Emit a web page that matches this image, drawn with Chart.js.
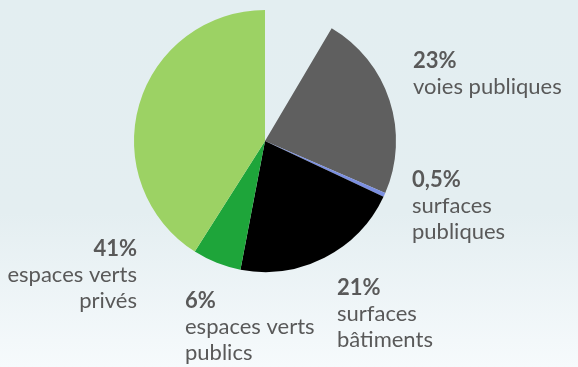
<!DOCTYPE html>
<html>
<head>
<meta charset="utf-8">
<script src="https://cdn.jsdelivr.net/npm/chart.js@4"></script>
<style>
  html, body { margin: 0; padding: 0; }
  body {
    width: 578px; height: 367px; overflow: hidden;
    background: linear-gradient(to bottom, #e3eef1 0%, #e4eef1 58%, #f6fafc 100%);
  }
  #wrap { position: relative; width: 578px; height: 367px; }
</style>
</head>
<body>
<div id="wrap"><canvas id="land-chart" width="578" height="367"></canvas></div>
<script>
// Occupation du sol, clockwise from 12 o'clock; the first slice is left empty
const categories = ['', 'voies publiques', 'surfaces publiques', 'surfaces bâtiments', 'espaces verts publics', 'espaces verts privés']
const shares = [8.5, 23, 0.5, 21, 6, 41]
const pctLabels = ['', '23%', '0,5%', '21%', '6%', '41%']
const sliceColors = ['rgba(0,0,0,0)', '#5f5f5f', '#7b8fe0', '#000000', '#1ea53a', '#9cd264']

// label blocks: [index, x, first baseline, align, lines]
const labelBlocks = [
  [1, 413, 68, 'left', ['voies publiques']],
  [2, 412, 187, 'left', ['surfaces', 'publiques']],
  [3, 337, 295, 'left', ['surfaces', 'bâtiments']],
  [4, 185, 308, 'left', ['espaces verts', 'publics']],
  [5, 137, 256, 'right', ['espaces verts', 'privés']],
]

const textLabels = {
  id: 'textLabels',
  afterDraw(chart) {
    const ctx = chart.ctx
    ctx.save()
    ctx.fillStyle = '#595959'
    ctx.textBaseline = 'alphabetic'
    labelBlocks.forEach(([i, x, y, align, lines]) => {
      ctx.textAlign = align
      ctx.font = 'bold 22px Lato'
      ctx.fillText(pctLabels[i], x, y)
      ctx.font = '22px Lato'
      lines.forEach((t, k) => ctx.fillText(t, x, y + 26 * (k + 1)))
    })
    ctx.restore()
  }
}

new Chart(document.getElementById('land-chart'), {
  type: 'pie',
  data: {
    labels: categories,
    datasets: [{
      data: shares,
      backgroundColor: sliceColors,
      borderWidth: 0,
      hoverOffset: 0
    }]
  },
  options: {
    responsive: false,
    animation: false,
    layout: { padding: { top: 10, bottom: 95, left: 134, right: 182 } },
    plugins: {
      legend: { display: false },
      tooltip: { enabled: false }
    }
  },
  plugins: [textLabels]
})
</script>
</body>
</html>
